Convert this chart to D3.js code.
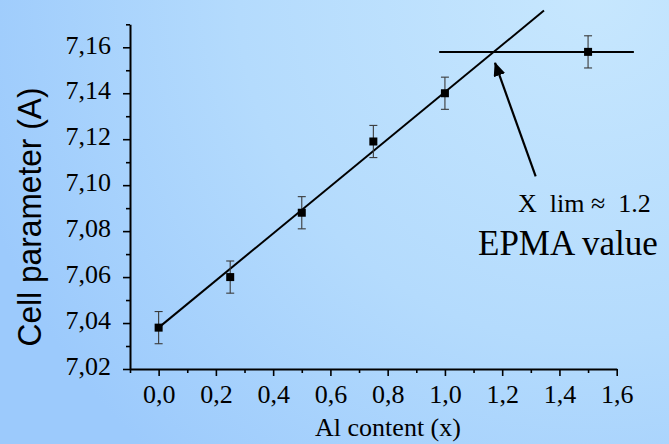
<!DOCTYPE html>
<html>
<head>
<meta charset="utf-8">
<script src="https://cdn.jsdelivr.net/npm/d3@7"></script>
<style>
  html, body { margin: 0; padding: 0; }
  svg { display: block; }
</style>
</head>
<body>
<svg id="chart" width="669" height="444"></svg>
<script>
// Measured lattice parameter versus Al content
const alContent = [0.0, 0.25, 0.5, 0.75, 1.0, 1.5];
const cellParam = [7.038, 7.060, 7.088, 7.119, 7.140, 7.158];
const cellErr   = [0.007, 0.007, 0.007, 0.007, 0.007, 0.007];

// Linear fit (Vegard-like) and saturation level
const fitIntercept = 7.038;
const fitSlope = 0.1025;
const fitRange = [0.0, 1.346];
const plateauValue = 7.158;
const plateauRange = [0.98, 1.66];

// Annotation arrow (tail -> head), in data units
const arrowTail = [1.317, 7.1038];
const arrowHead = [1.175, 7.1532];

const xTicks = [0.0, 0.2, 0.4, 0.6, 0.8, 1.0, 1.2, 1.4, 1.6];
const xMinorTicks = [-0.1, 0.1, 0.3, 0.5, 0.7, 0.9, 1.1, 1.3, 1.5];
const yTicks = [7.02, 7.04, 7.06, 7.08, 7.10, 7.12, 7.14, 7.16];
const yMinorTicks = [7.03, 7.05, 7.07, 7.09, 7.11, 7.13, 7.15, 7.17];

const svg = d3.select("#chart");
const W = 669, H = 444;

// Background
const defs = svg.append("defs");
const bg = defs.append("radialGradient")
  .attr("id", "bg").attr("gradientUnits", "userSpaceOnUse")
  .attr("cx", 590).attr("cy", -10).attr("r", 640);
bg.append("stop").attr("offset", "0%").attr("stop-color", "#c7e7fe");
bg.append("stop").attr("offset", "55%").attr("stop-color", "#b4dbfd");
bg.append("stop").attr("offset", "100%").attr("stop-color", "#9ccafc");
svg.append("rect").attr("width", W).attr("height", H).attr("fill", "url(#bg)");

defs.append("marker")
  .attr("id", "arrowhead").attr("markerUnits", "userSpaceOnUse")
  .attr("viewBox", "0 0 14 12").attr("refX", 13).attr("refY", 6)
  .attr("markerWidth", 14).attr("markerHeight", 12).attr("orient", "auto")
  .append("path").attr("d", "M0,0 L14,6 L0,12 Z").attr("fill", "#000");

const x = d3.scaleLinear().domain([-0.1, 1.6]).range([130, 616.7]);
const y = d3.scaleLinear().domain([7.02, 7.17]).range([369, 24.3]);

const fmt = d => d3.format(".2f")(d).replace(".", ",");
const fmtX = d => d3.format(".1f")(d).replace(".", ",");
const serif = "'Liberation Serif', 'Times New Roman', serif";

// Axes
const xAxis = svg.append("g").attr("transform", `translate(0,${y(7.02)})`)
  .call(d3.axisBottom(x).tickValues(xTicks).tickFormat(fmtX).tickSize(7).tickSizeOuter(0).tickPadding(9));
svg.append("g").attr("transform", `translate(0,${y(7.02)})`)
  .call(d3.axisBottom(x).tickValues(xMinorTicks).tickFormat("").tickSize(4).tickSizeOuter(0))
  .select(".domain").remove();

const yAxis = svg.append("g").attr("transform", `translate(${x(-0.1)},0)`)
  .call(d3.axisLeft(y).tickValues(yTicks).tickFormat(fmt).tickSize(7).tickSizeOuter(0).tickPadding(12));
svg.append("g").attr("transform", `translate(${x(-0.1)},0)`)
  .call(d3.axisLeft(y).tickValues(yMinorTicks).tickFormat("").tickSize(4).tickSizeOuter(0))
  .select(".domain").remove();

svg.selectAll(".domain").attr("stroke", "#000").attr("stroke-width", 2);
svg.selectAll(".tick line").attr("stroke", "#000").attr("stroke-width", 1.6);
xAxis.selectAll("text").attr("font-family", serif).attr("font-size", 26).attr("fill", "#000").attr("dy", "0.71em");
yAxis.selectAll("text").attr("font-family", serif).attr("font-size", 26).attr("fill", "#000").attr("dy", "0.22em");

// Axis titles
svg.append("text")
  .attr("x", 388).attr("y", 436).attr("text-anchor", "middle")
  .attr("font-family", serif).attr("font-size", 26).attr("fill", "#000")
  .text("Al content (x)");
svg.append("text")
  .attr("transform", `translate(41,217) rotate(-90)`).attr("text-anchor", "middle")
  .attr("font-family", "'Liberation Sans', Arial, sans-serif").attr("font-size", 34).attr("fill", "#000")
  .attr("textLength", 259).attr("lengthAdjust", "spacingAndGlyphs")
  .text("Cell parameter (A)");

// Fit line and plateau
const line = d3.line().x(d => x(d[0])).y(d => y(d[1]));
svg.append("path")
  .attr("d", line(fitRange.map(v => [v, fitIntercept + fitSlope * v])))
  .attr("stroke", "#000").attr("stroke-width", 2).attr("fill", "none");
svg.append("path")
  .attr("d", line(plateauRange.map(v => [v, plateauValue])))
  .attr("stroke", "#000").attr("stroke-width", 2).attr("fill", "none");

// Error bars
const pts = alContent.map((v, i) => ({ x: v, y: cellParam[i], e: cellErr[i] }));
const eb = svg.append("g").attr("stroke", "#3a3a3a").attr("stroke-width", 1.1);
pts.forEach(p => {
  eb.append("line").attr("x1", x(p.x)).attr("x2", x(p.x)).attr("y1", y(p.y - p.e)).attr("y2", y(p.y + p.e));
  [p.y - p.e, p.y + p.e].forEach(v => {
    eb.append("line").attr("x1", x(p.x) - 4).attr("x2", x(p.x) + 4).attr("y1", y(v)).attr("y2", y(v));
  });
});

// Markers
svg.append("g").selectAll("rect").data(pts).join("rect")
  .attr("x", d => x(d.x) - 4).attr("y", d => y(d.y) - 4)
  .attr("width", 8).attr("height", 8).attr("fill", "#000");

// Annotation
svg.append("line")
  .attr("x1", x(arrowTail[0])).attr("y1", y(arrowTail[1]))
  .attr("x2", x(arrowHead[0])).attr("y2", y(arrowHead[1]))
  .attr("stroke", "#000").attr("stroke-width", 2.2).attr("marker-end", "url(#arrowhead)");

svg.append("text")
  .attr("x", 518).attr("y", 212).attr("font-family", serif).attr("font-size", 26)
  .attr("fill", "#000").style("white-space", "pre")
  .text("X  lim ≈  1.2");
svg.append("text")
  .attr("x", 478).attr("y", 255).attr("font-family", serif).attr("font-size", 35)
  .attr("fill", "#000")
  .text("EPMA value");
</script>
</body>
</html>
